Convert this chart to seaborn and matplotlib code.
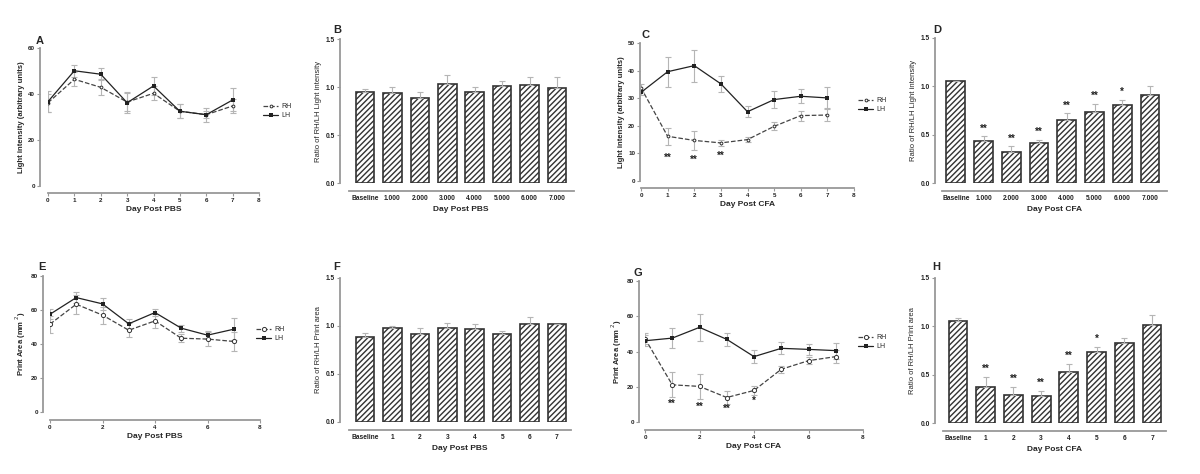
import numpy as np
import matplotlib
matplotlib.use("Agg")
import matplotlib.pyplot as plt
import seaborn as sns

# ---- data ----
days = [0, 1, 2, 3, 4, 5, 6, 7]
bar_labels_dec = ["Baseline", "1.000", "2.000", "3.000", "4.000", "5.000", "6.000", "7.000"]
bar_labels_int = ["Baseline", "1", "2", "3", "4", "5", "6", "7"]

# A: light intensity, PBS
a_rh = [36.2, 46.4, 42.9, 36.5, 40.3, 32.5, 31.0, 34.8]
a_rh_err = [4.0, 3.0, 3.5, 4.0, 3.0, 3.0, 3.0, 3.0]
a_lh = [36.7, 50.1, 48.6, 36.2, 43.5, 32.5, 31.0, 37.4]
a_lh_err = [4.5, 2.5, 2.5, 4.5, 4.0, 3.0, 1.5, 5.0]

# B: ratio light intensity, PBS
b_ratio = [0.946, 0.935, 0.883, 1.03, 0.95, 1.01, 1.025, 0.987]
b_err = [0.03, 0.06, 0.07, 0.09, 0.045, 0.05, 0.075, 0.115]

# C: light intensity, CFA
c_rh = [33.8, 16.2, 14.7, 13.8, 15.0, 19.8, 23.7, 23.9]
c_rh_err = [1.5, 3.0, 3.5, 1.2, 1.0, 1.5, 1.8, 2.2]
c_lh = [32.1, 39.6, 41.8, 35.2, 25.1, 29.5, 30.7, 30.1]
c_lh_err = [1.0, 5.5, 5.8, 3.0, 2.0, 3.0, 2.5, 3.8]
c_star_days = [1, 2, 3]
c_star_y = [8.5, 7.7, 9.0]
c_star_txt = ["**", "**", "**"]

# D: ratio light intensity, CFA
d_ratio = [1.06, 0.433, 0.32, 0.41, 0.65, 0.733, 0.81, 0.908]
d_err = [0.0, 0.05, 0.06, 0.035, 0.07, 0.085, 0.05, 0.10]
d_stars = ["", "**", "**", "**", "**", "**", "*", ""]

# E: print area, PBS
e_rh = [51.7, 63.4, 57.0, 48.1, 53.6, 43.4, 42.9, 41.5]
e_rh_err = [5.0, 5.5, 5.0, 4.0, 4.0, 2.5, 4.0, 5.5]
e_lh = [57.5, 67.3, 63.6, 51.9, 58.5, 49.3, 45.2, 48.7]
e_lh_err = [3.0, 3.0, 3.5, 3.0, 2.0, 2.0, 2.5, 6.5]

# F: ratio print area, PBS
f_ratio = [0.882, 0.976, 0.92, 0.976, 0.972, 0.92, 1.017, 1.024]
f_err = [0.045, 0.025, 0.055, 0.055, 0.045, 0.03, 0.075, 0.0]

# G: print area, CFA
g_rh = [47.3, 21.1, 20.2, 13.9, 17.9, 29.9, 34.8, 37.1]
g_rh_err = [3.0, 7.0, 7.0, 3.5, 2.5, 2.0, 2.0, 3.5]
g_lh = [46.1, 47.6, 53.7, 46.9, 37.1, 41.8, 41.2, 40.5]
g_lh_err = [3.0, 5.5, 7.5, 3.5, 3.5, 3.5, 3.0, 4.5]
g_star_days = [1, 2, 3, 4]
g_star_y = [10.3, 8.8, 7.3, 12.0]
g_star_txt = ["**", "**", "**", "*"]

# H: ratio print area, CFA
h_ratio = [1.052, 0.372, 0.29, 0.276, 0.528, 0.731, 0.828, 1.01]
h_err = [0.035, 0.105, 0.083, 0.055, 0.083, 0.055, 0.052, 0.107]
h_stars = ["", "**", "**", "**", "**", "*", "", ""]

# ---- style ----
sns.set_style("ticks")
plt.rcParams["font.family"] = ["Liberation Sans", "DejaVu Sans"]
plt.rcParams["hatch.linewidth"] = 1.0
plt.rcParams["hatch.color"] = "#3a3a3a"

W, H = 1200, 474
fig = plt.figure(figsize=(12, 4.74), dpi=100)
SPINE = "#999999"
ERR = "#b5b5b5"
LINE = "#222222"


def place(x0, x1, y_top, y_bot):
    return fig.add_axes([x0 / W, (H - y_bot) / H, (x1 - x0) / W, (y_bot - y_top) / H])


def style_axes(ax, left_px, bottom_px, tick_size):
    sns.despine(ax=ax)
    ax.spines["left"].set_position(("outward", left_px * 0.72))
    ax.spines["bottom"].set_position(("outward", bottom_px * 0.72))
    for s in ("left", "bottom"):
        ax.spines[s].set_color(SPINE)
        ax.spines[s].set_linewidth(1.3)
    ax.tick_params(axis="both", length=2, width=0.8, color=SPINE,
                   labelsize=tick_size, pad=1.5, labelcolor="#222222")
    for lab in ax.get_xticklabels() + ax.get_yticklabels():
        lab.set_fontweight("bold")


def line_panel(rect, rh, rh_err, lh, lh_err, ylim, yticks, xticks, xlabel, ylabel,
               offs, rh_ms, legend_xy, letter, letter_xy, stars=None):
    ax = place(*rect)
    ax.errorbar(days, rh, yerr=rh_err, fmt="none", ecolor=ERR, elinewidth=0.8, capsize=2, capthick=0.8)
    ax.errorbar(days, lh, yerr=lh_err, fmt="none", ecolor=ERR, elinewidth=0.8, capsize=2, capthick=0.8)
    sns.lineplot(x=days, y=rh, ax=ax, color="#444444", linestyle="--", linewidth=0.9,
                 marker="o", markersize=rh_ms, markerfacecolor="white",
                 markeredgecolor="#333333", markeredgewidth=0.7, label="RH")
    sns.lineplot(x=days, y=lh, ax=ax, color=LINE, linewidth=0.9,
                 marker="s", markersize=3, markeredgewidth=0, label="LH")
    ax.set_xlim(0, 8)
    ax.set_ylim(*ylim)
    ax.set_xticks(xticks)
    ax.set_yticks(yticks)
    ax.set_xlabel(xlabel, fontsize=6, fontweight="bold", labelpad=2)
    ax.set_ylabel(ylabel, fontsize=5.5, fontweight="bold", labelpad=2)
    style_axes(ax, offs[0], offs[1], 4.5)
    if stars is not None:
        for d, y, t in zip(*stars):
            ax.text(d, y, t, ha="center", va="center", fontsize=7, fontweight="bold", color="#222222")
    ax.legend(loc="upper left", bbox_to_anchor=(legend_xy[0] / W, 1 - legend_xy[1] / H),
              bbox_transform=fig.transFigure, frameon=False, fontsize=5,
              handlelength=2.2, handletextpad=0.4, labelspacing=0.35, borderpad=0,
              borderaxespad=0)
    fig.text(letter_xy[0] / W, 1 - letter_xy[1] / H, letter, fontsize=8,
             fontweight="bold", ha="left", va="center")
    return ax


def bar_panel(rect, xlim, vals, errs, labels, xlabel, ylabel, offs, letter, letter_xy, stars=None):
    ax = place(*rect)
    sns.barplot(x=labels, y=vals, ax=ax, color="white", edgecolor="#333333",
                linewidth=1.2, width=0.68, saturation=1)
    for p in ax.patches:
        p.set_hatch("//////")
    xs = np.arange(len(vals))
    ax.errorbar(xs, vals, yerr=[np.zeros(len(errs)), errs], fmt="none", ecolor=ERR,
                elinewidth=0.8, capsize=2.5, capthick=0.8, zorder=1)
    ax.set_xlim(*xlim)
    ax.set_ylim(0, 1.5)
    ax.set_yticks([0.0, 0.5, 1.0, 1.5])
    ax.set_yticklabels(["0.0", "0.5", "1.0", "1.5"])
    ax.set_xlabel(xlabel, fontsize=6, fontweight="bold", labelpad=3)
    ax.set_ylabel(ylabel, fontsize=5.5, labelpad=3)
    style_axes(ax, offs[0], offs[1], 4.8)
    ax.tick_params(axis="x", length=0, pad=3)
    if stars is not None:
        for x, v, e, t in zip(xs, vals, errs, stars):
            if t:
                ax.text(x, v + e + 0.03, t, ha="center", va="bottom", fontsize=7,
                        fontweight="bold", color="#222222")
    if letter:
        fig.text(letter_xy[0] / W, 1 - letter_xy[1] / H, letter, fontsize=8,
                 fontweight="bold", ha="left", va="center")
    return ax


line_panel((48, 259, 48, 186), a_rh, a_rh_err, a_lh, a_lh_err, (0, 60), [0, 20, 40, 60],
           range(9), "Day Post PBS", "Light intensity (arbitrary units)", (8, 7), 2,
           (263, 103), "A", (36, 41))
bar_panel((348.5, 573.5, 39, 183), (-0.6, 7.6), b_ratio, b_err, bar_labels_dec,
          "Day Post PBS", "Ratio of RH/LH Light intensity", (8.5, 8), "B", (333, 30))
line_panel((641, 854, 43, 181), c_rh, c_rh_err, c_lh, c_lh_err, (0, 50), [0, 10, 20, 30, 40, 50],
           range(9), "Day Post CFA", "Light intensity (arbitrary units)", (1, 7), 2,
           (858, 97), "C", (642, 35), stars=(c_star_days, c_star_y, c_star_txt))
bar_panel((942, 1166.6, 38, 183), (-0.5, 7.6), d_ratio, d_err, bar_labels_dec,
          "Day Post CFA", "Ratio of RH/LH Light intensity", (7, 8), "D", (933, 30), stars=d_stars)

line_panel((50, 260, 276, 412), e_rh, e_rh_err, e_lh, e_lh_err, (0, 80), [0, 20, 40, 60, 80],
           [0, 2, 4, 6, 8], "Day Post PBS", "Print Area (mm $^{2}$)", (7, 8), 3,
           (256, 326), "E", (38, 267))
bar_panel((348.6, 570.7, 278, 422), (-0.6, 7.5), f_ratio, f_err, bar_labels_int,
          "Day Post PBS", "Ratio of RH/LH Print area", (8.6, 8), "F", (333, 267))
line_panel((645, 863, 281, 422), g_rh, g_rh_err, g_lh, g_lh_err, (0, 80), [0, 20, 40, 60, 80],
           [0, 2, 4, 6, 8], "Day Post CFA", "Print Area (mm $^{2}$)", (6, 8), 3,
           (858, 334), "G", (633, 273), stars=(g_star_days, g_star_y, g_star_txt))
bar_panel((942.8, 1165.9, 278, 423), (-0.55, 7.5), h_ratio, h_err, bar_labels_int,
          "Day Post CFA", "Ratio of RH/LH Print area", (8, 8), "H", (932, 267), stars=h_stars)

fig.savefig("out.png", dpi=100)
